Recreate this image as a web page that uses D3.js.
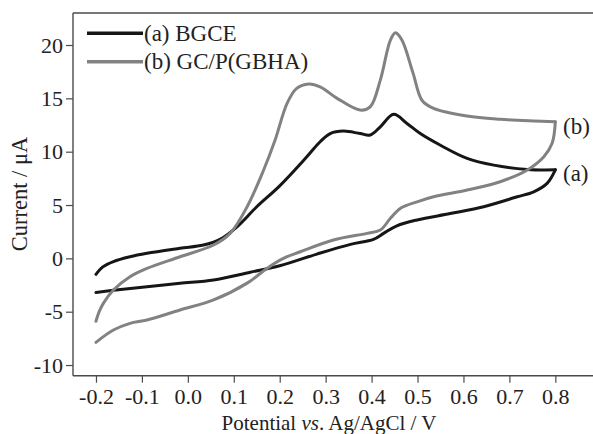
<!DOCTYPE html>
<html>
<head>
<meta charset="utf-8">
<script src="https://cdn.jsdelivr.net/npm/d3@7/dist/d3.min.js"></script>
<style>
  html, body { margin: 0; padding: 0; background: #fff; }
  svg { display: block; }
  text { font-family: "Liberation Serif", "Times New Roman", serif; fill: #222; }
</style>
</head>
<body>
<svg id="chart" width="593" height="434"></svg>
<script>
// ---- data (potential V, current µA) in scan order ----
const seriesNames = ["(a) BGCE", "(b) GC/P(GBHA)"];
const curveLabels = ["(a)", "(b)"];
const colors = ["#161616", "#828282"];

const aForward = [
  [-0.2, -1.5], [-0.185, -0.8], [-0.162, -0.3], [-0.126, 0.15], [-0.089, 0.47],
  [-0.017, 0.94], [0.034, 1.25], [0.07, 1.78], [0.107, 2.96], [0.15, 4.84],
  [0.2, 6.8], [0.259, 9.52], [0.288, 10.93], [0.31, 11.7], [0.339, 11.93],
  [0.375, 11.7], [0.397, 11.56], [0.419, 12.33], [0.448, 13.5], [0.477, 12.65],
  [0.506, 11.7], [0.55, 10.6], [0.608, 9.37], [0.666, 8.74], [0.739, 8.34], [0.8, 8.3]
];
const aReverse = [
  [0.8, 8.3], [0.782, 7.03], [0.753, 6.24], [0.717, 5.77], [0.644, 4.84],
  [0.571, 4.2], [0.499, 3.6], [0.455, 3.05], [0.426, 2.34], [0.404, 1.78],
  [0.354, 1.31], [0.281, 0.4], [0.2, -0.7], [0.136, -1.3], [0.056, -2.03],
  [-0.017, -2.34], [-0.089, -2.66], [-0.162, -3.0], [-0.2, -3.2]
];
const bForward = [
  [-0.2, -5.9], [-0.193, -5.0], [-0.184, -4.22], [-0.162, -2.97], [-0.126, -1.72],
  [-0.089, -0.94], [-0.017, 0.15], [0.056, 1.25], [0.092, 2.34], [0.129, 4.84],
  [0.165, 8.28], [0.19, 11.09], [0.216, 14.53], [0.237, 15.93], [0.263, 16.34],
  [0.288, 16.08], [0.325, 15.0], [0.375, 13.9], [0.397, 14.2], [0.419, 16.71],
  [0.441, 20.46], [0.452, 21.14], [0.466, 20.46], [0.49, 17.4], [0.51, 14.8],
  [0.535, 14.06], [0.608, 13.34], [0.68, 13.03], [0.753, 12.87], [0.8, 12.8]
];
const bReverse = [
  [0.8, 12.8], [0.793, 10.78], [0.775, 9.52], [0.739, 8.28], [0.68, 7.18],
  [0.608, 6.4], [0.535, 5.77], [0.499, 5.3], [0.463, 4.69], [0.441, 3.75],
  [0.419, 2.65], [0.39, 2.34], [0.317, 1.72], [0.245, 0.62], [0.208, 0.0],
  [0.172, -0.94], [0.13, -2.3], [0.056, -3.9], [-0.017, -4.84], [-0.089, -5.78],
  [-0.126, -6.09], [-0.162, -6.72], [-0.2, -7.87]
];

const xTicks = [-0.2, -0.1, 0.0, 0.1, 0.2, 0.3, 0.4, 0.5, 0.6, 0.7, 0.8];
const yTicks = [-10, -5, 0, 5, 10, 15, 20];

// ---- layout ----
const svg = d3.select("#chart");
const pLeft = 73, pRight = 593, pTop = 13, pBottom = 375.7;

const x = d3.scaleLinear().domain([-0.25, 0.882]).range([pLeft, pRight]);
const y = d3.scaleLinear().domain([-11, 23]).range([pBottom, pTop]);

const axisColor = "#4a4a4a";

// top border
svg.append("line")
  .attr("x1", pLeft).attr("x2", pRight).attr("y1", pTop).attr("y2", pTop)
  .attr("stroke", axisColor).attr("stroke-width", 1.4);

// x axis
const gx = svg.append("g").attr("transform", `translate(0,${pBottom})`)
  .call(d3.axisBottom(x).tickValues(xTicks).tickSize(7).tickPadding(6)
        .tickFormat(d => d3.format(".1f")(d).replace("−", "-")));
gx.select(".domain").attr("d", `M${pLeft},0H${pRight}`).attr("stroke", axisColor).attr("stroke-width", 1.4);
gx.selectAll(".tick line").attr("stroke", axisColor).attr("stroke-width", 1.2);
gx.selectAll(".tick text").attr("font-size", 22).attr("fill", "#222")
  .attr("font-family", "Liberation Serif");

// y axis
const gy = svg.append("g").attr("transform", `translate(${pLeft},0)`)
  .call(d3.axisLeft(y).tickValues(yTicks).tickSize(7).tickPadding(3)
        .tickFormat(d => String(d)));
gy.select(".domain").attr("d", `M0,${pTop}V${pBottom}`).attr("stroke", axisColor).attr("stroke-width", 1.4);
gy.selectAll(".tick line").attr("stroke", axisColor).attr("stroke-width", 1.2);
gy.selectAll(".tick text").attr("font-size", 22).attr("fill", "#222")
  .attr("font-family", "Liberation Serif");

// axis titles
const xt = svg.append("text").attr("x", 329).attr("y", 430)
  .attr("text-anchor", "middle").attr("font-size", 21);
xt.append("tspan").text("Potential ");
xt.append("tspan").attr("font-style", "italic").text("vs");
xt.append("tspan").text(". Ag/AgCl / V");

svg.append("text")
  .attr("transform", "translate(27,194) rotate(-90)")
  .attr("text-anchor", "middle").attr("font-size", 22.5)
  .text("Current / μA");

// curves
const line = d3.line().x(d => x(d[0])).y(d => y(d[1]))
  .curve(d3.curveCatmullRom.alpha(0.5));

const sweeps = [
  { data: aForward, c: 0 }, { data: aReverse, c: 0 },
  { data: bForward, c: 1 }, { data: bReverse, c: 1 }
];
svg.append("g").selectAll("path").data(sweeps).join("path")
  .attr("d", d => line(d.data))
  .attr("fill", "none")
  .attr("stroke", d => colors[d.c])
  .attr("stroke-width", 3)
  .attr("stroke-linecap", "round")
  .attr("stroke-linejoin", "round");

// legend
const legY = [33.3, 61.7];
const legTextY = [40.8, 68.5];
seriesNames.forEach((name, i) => {
  svg.append("line")
    .attr("x1", 87).attr("x2", 143).attr("y1", legY[i]).attr("y2", legY[i])
    .attr("stroke", colors[i]).attr("stroke-width", 3.5);
  svg.append("text").attr("x", 144).attr("y", legTextY[i])
    .attr("font-size", 23).text(name);
});

// curve end labels
const labY = [180.5, 134];
curveLabels.forEach((t, i) => {
  svg.append("text").attr("x", 563).attr("y", labY[i])
    .attr("font-size", 23).text(t);
});
</script>
</body>
</html>
